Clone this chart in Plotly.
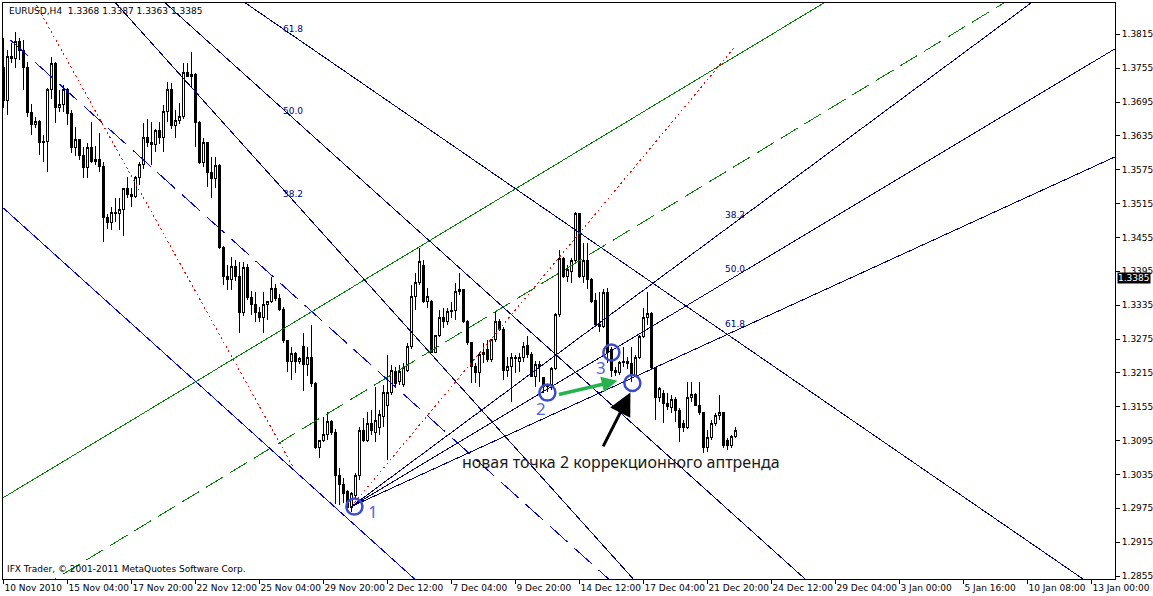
import plotly.graph_objects as go

# ---------------- data ----------------
bars = list(range(184))
opens = [1.3756,1.3697,1.3775,1.3773,1.3803,1.3787,1.3757,1.3676,1.3656,1.3660,
1.3623,1.3625,1.3718,1.3763,1.3685,1.3690,1.3718,1.3674,1.3614,1.3628,
1.3601,1.3579,1.3614,1.3589,1.3593,1.3580,1.3490,1.3481,1.3499,1.3497,
1.3505,1.3541,1.3531,1.3527,1.3561,1.3585,1.3633,1.3624,1.3619,1.3644,
1.3633,1.3679,1.3718,1.3653,1.3663,1.3670,1.3748,1.3741,1.3743,1.3658,
1.3587,1.3623,1.3570,1.3559,1.3582,1.3437,1.3385,1.3380,1.3403,1.3385,
1.3322,1.3401,1.3348,1.3336,1.3322,1.3313,1.3336,1.3341,1.3364,1.3346,
1.3327,1.3272,1.3236,1.3250,1.3236,1.3262,1.3229,1.3243,1.3197,1.3082,
1.3096,1.3105,1.3128,1.3110,1.3034,1.3017,1.3004,1.2976,1.2997,1.3033,
1.3112,1.3096,1.3126,1.3109,1.3118,1.3138,1.3158,1.3181,1.3217,1.3199,
1.3194,1.3220,1.3261,1.3350,1.3375,1.3406,1.3341,1.3341,1.3252,1.3282,
1.3314,1.3306,1.3323,1.3325,1.3360,1.3362,1.3306,1.3268,1.3226,1.3215,
1.3247,1.3256,1.3238,1.3274,1.3306,1.3291,1.3220,1.3226,1.3242,1.3236,
1.3242,1.3263,1.3247,1.3208,1.3229,1.3206,1.3190,1.3194,1.3222,1.3318,
1.3417,1.3385,1.3394,1.3415,1.3497,1.3385,1.3415,1.3380,1.3344,1.3300,
1.3297,1.3357,1.3256,1.3220,1.3215,1.3233,1.3236,1.3231,1.3211,1.3243,
1.3279,1.3314,1.3320,1.3224,1.3171,1.3178,1.3160,1.3153,1.3167,1.3149,
1.3125,1.3118,1.3171,1.3176,1.3157,1.3144,1.3082,1.3100,1.3126,1.3140,
1.3144,1.3096,1.3087,1.3102]
highs = [1.3809,1.3787,1.3800,1.3819,1.3808,1.3805,1.3766,1.3692,1.3669,1.3663,
1.3637,1.3720,1.3775,1.3766,1.3717,1.3725,1.3720,1.3681,1.3651,1.3630,
1.3616,1.3623,1.3660,1.3617,1.3640,1.3589,1.3497,1.3509,1.3525,1.3525,
1.3543,1.3562,1.3543,1.3564,1.3589,1.3658,1.3665,1.3660,1.3647,1.3660,
1.3690,1.3731,1.3729,1.3681,1.3693,1.3764,1.3764,1.3784,1.3747,1.3662,
1.3632,1.3625,1.3598,1.3598,1.3585,1.3439,1.3406,1.3421,1.3415,1.3412,
1.3412,1.3408,1.3360,1.3359,1.3331,1.3359,1.3343,1.3385,1.3373,1.3355,
1.3332,1.3274,1.3261,1.3252,1.3243,1.3286,1.3261,1.3300,1.3199,1.3096,
1.3137,1.3146,1.3132,1.3116,1.3047,1.3029,1.3008,1.3004,1.3038,1.3119,
1.3135,1.3146,1.3150,1.3190,1.3150,1.3194,1.3247,1.3229,1.3226,1.3229,
1.3233,1.3268,1.3371,1.3392,1.3437,1.3415,1.3366,1.3344,1.3283,1.3327,
1.3330,1.3330,1.3341,1.3375,1.3392,1.3364,1.3309,1.3270,1.3233,1.3252,
1.3268,1.3274,1.3274,1.3323,1.3311,1.3297,1.3243,1.3251,1.3247,1.3250,
1.3270,1.3280,1.3252,1.3236,1.3236,1.3208,1.3196,1.3226,1.3322,1.3433,
1.3420,1.3406,1.3419,1.3500,1.3499,1.3445,1.3445,1.3383,1.3357,1.3359,
1.3364,1.3366,1.3261,1.3226,1.3236,1.3261,1.3243,1.3261,1.3247,1.3282,
1.3330,1.3359,1.3323,1.3226,1.3190,1.3185,1.3180,1.3176,1.3173,1.3153,
1.3132,1.3199,1.3199,1.3180,1.3199,1.3146,1.3114,1.3132,1.3144,1.3176,
1.3146,1.3100,1.3105,1.3119]
lows = [1.3685,1.3672,1.3764,1.3756,1.3770,1.3717,1.3669,1.3637,1.3649,1.3601,
1.3589,1.3571,1.3700,1.3658,1.3678,1.3678,1.3655,1.3605,1.3600,1.3592,
1.3561,1.3561,1.3587,1.3584,1.3571,1.3447,1.3470,1.3468,1.3483,1.3468,
1.3458,1.3525,1.3509,1.3525,1.3548,1.3577,1.3616,1.3584,1.3607,1.3621,
1.3607,1.3660,1.3647,1.3631,1.3656,1.3665,1.3740,1.3722,1.3615,1.3585,
1.3580,1.3545,1.3525,1.3543,1.3434,1.3371,1.3362,1.3362,1.3378,1.3286,
1.3315,1.3345,1.3318,1.3305,1.3306,1.3286,1.3308,1.3339,1.3343,1.3324,
1.3268,1.3217,1.3203,1.3215,1.3231,1.3183,1.3210,1.3190,1.3080,1.3064,
1.3093,1.3096,1.3105,1.2983,1.2981,1.2985,1.2972,1.2969,1.2994,1.3025,
1.3093,1.3093,1.3105,1.3093,1.3105,1.3119,1.3061,1.3176,1.3190,1.3194,
1.3190,1.3217,1.3258,1.3327,1.3371,1.3339,1.3330,1.3251,1.3250,1.3279,
1.3295,1.3300,1.3313,1.3309,1.3353,1.3304,1.3265,1.3197,1.3197,1.3190,
1.3233,1.3235,1.3235,1.3270,1.3290,1.3203,1.3208,1.3164,1.3215,1.3216,
1.3235,1.3242,1.3208,1.3190,1.3199,1.3180,1.3181,1.3185,1.3220,1.3314,
1.3383,1.3376,1.3374,1.3412,1.3383,1.3374,1.3364,1.3339,1.3297,1.3288,
1.3295,1.3233,1.3208,1.3210,1.3211,1.3226,1.3222,1.3199,1.3208,1.3240,
1.3277,1.3300,1.3220,1.3132,1.3164,1.3126,1.3149,1.3144,1.3128,1.3093,
1.3110,1.3116,1.3164,1.3157,1.3140,1.3073,1.3075,1.3096,1.3120,1.3132,
1.3082,1.3079,1.3082,1.3100]
closes = [1.3697,1.3775,1.3773,1.3803,1.3787,1.3757,1.3676,1.3656,1.3660,1.3623,
1.3625,1.3718,1.3763,1.3685,1.3690,1.3718,1.3674,1.3614,1.3628,1.3601,
1.3579,1.3614,1.3589,1.3593,1.3580,1.3490,1.3481,1.3499,1.3497,1.3505,
1.3541,1.3531,1.3527,1.3561,1.3585,1.3633,1.3624,1.3619,1.3644,1.3633,
1.3679,1.3718,1.3653,1.3663,1.3670,1.3748,1.3741,1.3743,1.3658,1.3587,
1.3623,1.3570,1.3559,1.3582,1.3437,1.3385,1.3380,1.3403,1.3385,1.3322,
1.3401,1.3348,1.3336,1.3322,1.3313,1.3336,1.3341,1.3364,1.3346,1.3327,
1.3272,1.3236,1.3250,1.3236,1.3240,1.3229,1.3242,1.3197,1.3082,1.3096,
1.3105,1.3128,1.3110,1.3034,1.3017,1.3002,1.2976,1.3002,1.3033,1.3112,
1.3096,1.3126,1.3112,1.3130,1.3142,1.3181,1.3181,1.3220,1.3197,1.3217,
1.3224,1.3261,1.3350,1.3375,1.3412,1.3341,1.3350,1.3252,1.3282,1.3314,
1.3306,1.3323,1.3325,1.3360,1.3362,1.3306,1.3268,1.3226,1.3215,1.3247,
1.3252,1.3238,1.3274,1.3306,1.3291,1.3220,1.3226,1.3242,1.3240,1.3242,
1.3261,1.3247,1.3208,1.3229,1.3226,1.3190,1.3194,1.3222,1.3318,1.3417,
1.3385,1.3398,1.3415,1.3497,1.3385,1.3415,1.3380,1.3341,1.3300,1.3297,
1.3357,1.3251,1.3220,1.3215,1.3233,1.3236,1.3231,1.3211,1.3243,1.3279,
1.3314,1.3320,1.3224,1.3171,1.3188,1.3160,1.3155,1.3167,1.3149,1.3119,
1.3118,1.3171,1.3176,1.3158,1.3144,1.3082,1.3100,1.3126,1.3140,1.3144,
1.3087,1.3087,1.3102,1.3112]

tick_bars = [0, 16, 32, 48, 64, 80, 96, 112, 128, 144, 160, 176, 192, 208, 224, 240, 256, 272]
tick_dates = ["10 Nov 2010", "15 Nov 04:00", "17 Nov 20:00", "22 Nov 12:00", "25 Nov 04:00",
              "29 Nov 20:00", "2 Dec 12:00", "7 Dec 04:00", "9 Dec 20:00", "14 Dec 12:00",
              "17 Dec 04:00", "21 Dec 20:00", "24 Dec 12:00", "29 Dec 04:00", "3 Jan 00:00",
              "5 Jan 16:00", "10 Jan 08:00", "13 Jan 00:00"]
price_ticks = [1.2855, 1.2915, 1.2975, 1.3035, 1.3095, 1.3155, 1.3215, 1.3275, 1.3335,
               1.3395, 1.3455, 1.3515, 1.3575, 1.3635, 1.3695, 1.3755, 1.3815]
last_price = 1.3385
header = "EURUSD,H4\u00a0\u00a01.3368 1.3387 1.3363 1.3385"
footer = "IFX Trader, \u00a9 2001-2011 MetaQuotes Software Corp."

# Fibonacci fans (anchor points: bar, price)
fib_levels = [38.2, 50.0, 61.8]
fan_down_p1 = (-24.5, 1.4285)
fan_down_p2 = (72.5, 1.3047)
fan_up_p1 = (87.0, 1.2978)
fan_up_p2 = (183.0, 1.3794)

# trend / channel lines (two anchors each)
green_solid = [(0.0, 1.2994), (204.75, 1.3869)]
green_dash = [(13.0, 1.2850), (249.75, 1.3869)]
blue_solid = [(0.0, 1.3507), (102.75, 1.2850)]
blue_dash = [(1.75, 1.3805), (151.25, 1.2850)]

# markup
circle_pts = [(87.75, 1.2978), (136.0, 1.3180), (152.0, 1.3251), (157.25, 1.3197)]
num_labels = [("1", 92.5, 1.2969), ("2", 134.5, 1.3151), ("3", 149.5, 1.3224)]
note_text = "новая точка 2 коррекционного аптренда"
note_pos = (114.25, 1.3057)
black_arrow = [(149.75, 1.3082), (156.75, 1.3180)]
green_arrow = [(138.5, 1.3176), (153.5, 1.3201)]

# ---------------- figure ----------------
NAVY = "#000080"
AX_FONT = dict(family="DejaVu Sans", size=9, color="black")

fig = go.Figure()
fig.add_trace(go.Candlestick(
    x=bars, open=opens, high=highs, low=lows, close=closes,
    increasing=dict(line=dict(color="black", width=1), fillcolor="white"),
    decreasing=dict(line=dict(color="black", width=1), fillcolor="black"),
    whiskerwidth=0, hoverinfo="skip", showlegend=False))


def along(a, b, t0, t1):
    xs = [a[0] + (b[0] - a[0]) * t for t in (t0, t1)]
    ys = [a[1] + (b[1] - a[1]) * t for t in (t0, t1)]
    return xs, ys


def add_line(a, b, t0, t1, color, dash="solid", width=1):
    xs, ys = along(a, b, t0, t1)
    fig.add_trace(go.Scatter(x=xs, y=ys, mode="lines",
                             line=dict(color=color, width=width, dash=dash),
                             hoverinfo="skip", showlegend=False))


# channels
add_line(green_solid[0], green_solid[1], -3, 4, "#008000")
add_line(green_dash[0], green_dash[1], -3, 4, "#008000", dash="20px,8px")
add_line(blue_solid[0], blue_solid[1], -3, 4, "#0000FF")
add_line(blue_dash[0], blue_dash[1], 0, 4, "#0000FF", dash="24px,9px")

# fans
for p1, p2, sign in [(fan_down_p1, fan_down_p2, 1), (fan_up_p1, fan_up_p2, -1)]:
    add_line(p1, p2, 0, 1, "#FF0000", dash="2px,3px")
    for lv in fib_levels:
        if sign == 1:
            lp = p2[1] + (p1[1] - p2[1]) * lv / 100.0
        else:
            lp = p2[1] - (p2[1] - p1[1]) * lv / 100.0
        add_line(p1, (p2[0], lp), 0, 8, NAVY)
        fig.add_annotation(x=p2[0], y=lp, text=f"{lv:.1f}", showarrow=False,
                           xanchor="center", yanchor="bottom", yshift=0,
                           font=dict(family="DejaVu Sans", size=9, color=NAVY))

# circles
for cx, cy in circle_pts:
    fig.add_shape(type="circle", xref="x", yref="y", xsizemode="pixel", ysizemode="pixel",
                  xanchor=cx, yanchor=cy, x0=-8, x1=8, y0=-8, y1=8,
                  line=dict(color="rgb(60,75,205)", width=2.5))
for t, lx, ly in num_labels:
    fig.add_annotation(x=lx, y=ly, text=t, showarrow=False, xanchor="center", yanchor="middle",
                       font=dict(family="Noto Sans", size=17, color="rgb(85,100,215)"))

fig.add_annotation(x=note_pos[0], y=note_pos[1], text=note_text, showarrow=False,
                   xanchor="left", yanchor="middle",
                   font=dict(family="Noto Sans", size=16, color="#1a1a1a"))

fig.add_annotation(x=black_arrow[1][0], y=black_arrow[1][1], ax=black_arrow[0][0], ay=black_arrow[0][1],
                   xref="x", yref="y", axref="x", ayref="y", text="", showarrow=True,
                   arrowhead=2, arrowsize=1.5, arrowwidth=3, arrowcolor="black")
fig.add_annotation(x=green_arrow[1][0], y=green_arrow[1][1], ax=green_arrow[0][0], ay=green_arrow[0][1],
                   xref="x", yref="y", axref="x", ayref="y", text="", showarrow=True,
                   arrowhead=2, arrowsize=0.9, arrowwidth=3.5, arrowcolor="#26B34C")

# header / footer / last price
fig.add_annotation(xref="paper", yref="paper", x=0.0035, y=1, xanchor="left", yanchor="top",
                   yshift=-1, text=header, showarrow=False, font=AX_FONT)
fig.add_annotation(xref="paper", yref="paper", x=0.0015, y=0, xanchor="left", yanchor="bottom",
                   yshift=3, text=footer, showarrow=False, font=AX_FONT)
fig.add_annotation(xref="paper", yref="y", x=1, y=last_price, xanchor="left", yanchor="middle",
                   xshift=2, yshift=-1, text=f"{last_price:.4f}", showarrow=False, bgcolor="black",
                   borderpad=0, font=dict(family="DejaVu Sans", size=9, color="white"))

fig.update_layout(
    width=1153, height=596,
    margin=dict(l=3, r=38, t=3, b=17, autoexpand=False),
    paper_bgcolor="white", plot_bgcolor="white",
    showlegend=False,
    xaxis=dict(range=[-0.1, 277.9], showgrid=False, zeroline=False,
               showline=True, mirror=True, linecolor="black", linewidth=1,
               ticks="outside", ticklen=4, tickcolor="black", tickangle=0,
               tickvals=tick_bars, ticktext=tick_dates, ticklabelposition="outside right",
               tickfont=AX_FONT, rangeslider=dict(visible=False), fixedrange=True,
               automargin=False),
    yaxis=dict(range=[1.28497, 1.38705], side="right", showgrid=False, zeroline=False,
               showline=True, mirror=True, linecolor="black", linewidth=1,
               ticks="outside", ticklen=4, tickcolor="black",
               tickvals=price_ticks, ticktext=[f"{v:.4f}" for v in price_ticks],
               tickfont=AX_FONT, fixedrange=True, automargin=False),
)

crisp_js = """
document.body.style.margin='0';
function crisp(){
  document.querySelectorAll('.scatterlayer path, .boxlayer path').forEach(function(p){
    p.setAttribute('shape-rendering','crispEdges');
  });
}
crisp();
setTimeout(crisp, 50);
"""
fig.write_html("out.html", config={"displayModeBar": False}, post_script=crisp_js)
